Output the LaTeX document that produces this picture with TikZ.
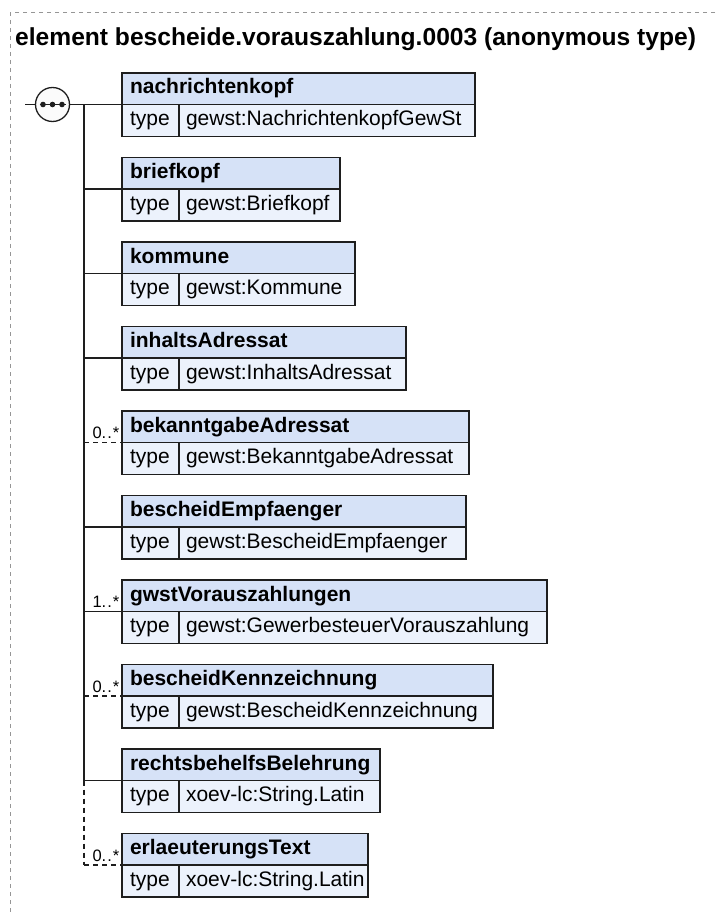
\documentclass[tikz,border=0pt]{standalone}
\usepackage{fontspec}
\setmainfont{Liberation Sans}
\usetikzlibrary{positioning}
\definecolor{hdrblue}{RGB}{214,226,247}
\definecolor{rowblue}{RGB}{236,242,252}
\definecolor{framegray}{RGB}{150,150,150}
\definecolor{boxline}{RGB}{30,30,30}
\tikzset{
  hdr/.style={draw=boxline,line width=1.3pt,fill=hdrblue,anchor=north west,outer sep=0pt,inner xsep=8pt,inner ysep=0pt,minimum height=31.5pt,text height=15pt,text depth=4.5pt,font=\fontsize{21}{25}\selectfont\bfseries},
  typecell/.style={draw=boxline,line width=1.3pt,fill=rowblue,anchor=north west,outer sep=0pt,inner xsep=8pt,inner ysep=0pt,text width=41pt,minimum height=32pt,text height=15pt,text depth=4.5pt,font=\fontsize{21}{25}\selectfont},
  valcell/.style={draw=boxline,line width=1.3pt,fill=rowblue,anchor=north west,outer sep=0pt,inner xsep=7pt,inner ysep=0pt,minimum height=32pt,text height=15pt,text depth=4.5pt,font=\fontsize{21}{25}\selectfont},
  card/.style={font=\fontsize{16.5}{19}\selectfont,anchor=base east,inner sep=0pt},
  conn/.style={line width=1.3pt,draw=boxline},
  opt/.style={dash pattern=on 5pt off 4pt},
  seqnode/.style={circle,draw=boxline,line width=1.3pt,fill=gray!3,outer sep=0pt,minimum size=34pt,inner sep=0pt}
}
\begin{document}
\begin{tikzpicture}[x=1pt,y=-1pt]
\useasboundingbox (0,0) rectangle (715,915);
\draw[framegray,line width=1pt,dash pattern=on 4pt off 4pt] (715,13) -- (10,13) -- (10,915);
\node[font=\fontsize{24.6}{29}\selectfont\bfseries,anchor=base west,inner sep=0pt] (title) at (15,46) {element bescheide.vorauszahlung.0003 (anonymous type)};

\node[hdr,text width=337pt] (nachrichtenkopf) at (122,73) {nachrichtenkopf};
\node[typecell] (nachrichtenkopf-t) at (nachrichtenkopf.south west) {type};
\node[valcell,text width=282pt,right=0pt of nachrichtenkopf-t] (nachrichtenkopf-v) {gewst:NachrichtenkopfGewSt};

\node[hdr,text width=202pt] (briefkopf) at (122,157.5) {briefkopf};
\node[typecell] (briefkopf-t) at (briefkopf.south west) {type};
\node[valcell,text width=147pt,right=0pt of briefkopf-t] (briefkopf-v) {gewst:Briefkopf};

\node[hdr,text width=217pt] (kommune) at (122,242) {kommune};
\node[typecell] (kommune-t) at (kommune.south west) {type};
\node[valcell,text width=162pt,right=0pt of kommune-t] (kommune-v) {gewst:Kommune};

\node[hdr,text width=268pt] (inhaltsAdressat) at (122,326.5) {inhaltsAdressat};
\node[typecell] (inhaltsAdressat-t) at (inhaltsAdressat.south west) {type};
\node[valcell,text width=213pt,right=0pt of inhaltsAdressat-t] (inhaltsAdressat-v) {gewst:InhaltsAdressat};

\node[hdr,text width=331pt] (bekanntgabeAdressat) at (122,411) {bekanntgabeAdressat};
\node[typecell] (bekanntgabeAdressat-t) at (bekanntgabeAdressat.south west) {type};
\node[valcell,text width=276pt,right=0pt of bekanntgabeAdressat-t] (bekanntgabeAdressat-v) {gewst:BekanntgabeAdressat};

\node[hdr,text width=328pt] (bescheidEmpfaenger) at (122,495.5) {bescheidEmpfaenger};
\node[typecell] (bescheidEmpfaenger-t) at (bescheidEmpfaenger.south west) {type};
\node[valcell,text width=273pt,right=0pt of bescheidEmpfaenger-t] (bescheidEmpfaenger-v) {gewst:BescheidEmpfaenger};

\node[hdr,text width=409pt] (gwstVorauszahlungen) at (122,580) {gwstVorauszahlungen};
\node[typecell] (gwstVorauszahlungen-t) at (gwstVorauszahlungen.south west) {type};
\node[valcell,text width=354pt,right=0pt of gwstVorauszahlungen-t] (gwstVorauszahlungen-v) {gewst:GewerbesteuerVorauszahlung};

\node[hdr,text width=355pt] (bescheidKennzeichnung) at (122,664.5) {bescheidKennzeichnung};
\node[typecell] (bescheidKennzeichnung-t) at (bescheidKennzeichnung.south west) {type};
\node[valcell,text width=300pt,right=0pt of bescheidKennzeichnung-t] (bescheidKennzeichnung-v) {gewst:BescheidKennzeichnung};

\node[hdr,text width=242pt] (rechtsbehelfsBelehrung) at (122,749) {rechtsbehelfsBelehrung};
\node[typecell] (rechtsbehelfsBelehrung-t) at (rechtsbehelfsBelehrung.south west) {type};
\node[valcell,text width=187pt,right=0pt of rechtsbehelfsBelehrung-t] (rechtsbehelfsBelehrung-v) {\mbox{xoev-lc:String.Latin}};

\node[hdr,text width=230pt] (erlaeuterungsText) at (122,833.5) {erlaeuterungsText};
\node[typecell] (erlaeuterungsText-t) at (erlaeuterungsText.south west) {type};
\node[valcell,text width=175pt,right=0pt of erlaeuterungsText-t] (erlaeuterungsText-v) {\mbox{xoev-lc:String.Latin}};

\node[seqnode] (seq) at (52.5,104.5) {};
\draw[conn] ([xshift=-13pt]seq.center) -- ([xshift=13pt]seq.center);
\fill[boxline] ([xshift=-9.5pt]seq.center) circle (2.8pt) (seq.center) circle (2.8pt) ([xshift=9.5pt]seq.center) circle (2.8pt);
\coordinate (seqin) at (25,104.5);
\coordinate (trunk) at (84,104.5);
\draw[conn] (seqin) -- (seq.west);
\draw[conn] (seq.east) -- (nachrichtenkopf.south west);
\draw[conn] (trunk) -- (trunk |- rechtsbehelfsBelehrung.south west);
\draw[conn,opt] (trunk |- rechtsbehelfsBelehrung.south west) -- (trunk |- erlaeuterungsText.south west);

\draw[conn] (trunk |- briefkopf.south west) -- (briefkopf.south west);
\draw[conn] (trunk |- kommune.south west) -- (kommune.south west);
\draw[conn] (trunk |- inhaltsAdressat.south west) -- (inhaltsAdressat.south west);
\draw[conn,opt] (trunk |- bekanntgabeAdressat.south west) -- (bekanntgabeAdressat.south west);
\draw[conn] (trunk |- bescheidEmpfaenger.south west) -- (bescheidEmpfaenger.south west);
\draw[conn] (trunk |- gwstVorauszahlungen.south west) -- (gwstVorauszahlungen.south west);
\draw[conn,opt] (trunk |- bescheidKennzeichnung.south west) -- (bescheidKennzeichnung.south west);
\draw[conn] (trunk |- rechtsbehelfsBelehrung.south west) -- (rechtsbehelfsBelehrung.south west);
\draw[conn,opt] (trunk |- erlaeuterungsText.south west) -- (erlaeuterungsText.south west);

\node[card] (bekanntgabeAdressat-c) at ([xshift=-2.5pt,yshift=4pt]bekanntgabeAdressat.south west) {0.\kern1pt.\kern1pt*};
\node[card] (gwstVorauszahlungen-c) at ([xshift=-2.5pt,yshift=4pt]gwstVorauszahlungen.south west) {1.\kern1pt.\kern1pt*};
\node[card] (bescheidKennzeichnung-c) at ([xshift=-2.5pt,yshift=4pt]bescheidKennzeichnung.south west) {0.\kern1pt.\kern1pt*};
\node[card] (erlaeuterungsText-c) at ([xshift=-2.5pt,yshift=4pt]erlaeuterungsText.south west) {0.\kern1pt.\kern1pt*};

\end{tikzpicture}
\end{document}
